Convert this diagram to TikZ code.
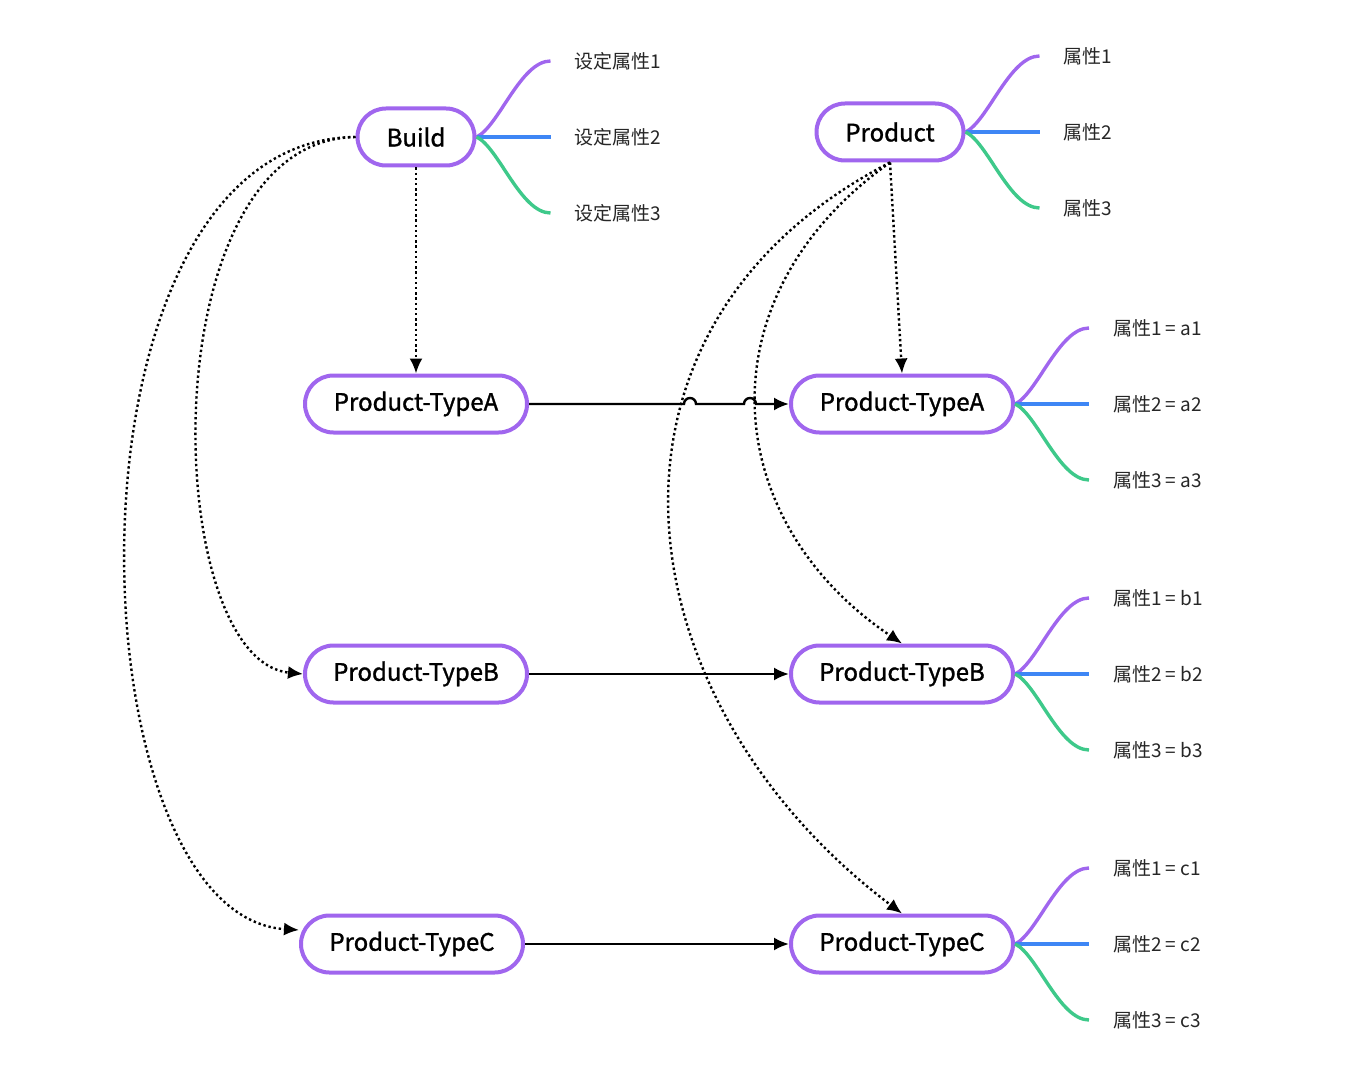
\documentclass[tikz,border=0pt]{standalone}
\usepackage{fontspec}
\setmainfont{Noto Sans CJK SC}
\newfontfamily\boxfont{Noto Sans CJK SC}[FakeBold=1.2]
\usetikzlibrary{positioning,arrows.meta}
\definecolor{boxpurple}{RGB}{160,102,238}
\definecolor{attrblue}{RGB}{62,134,245}
\definecolor{attrgreen}{RGB}{62,201,138}
\tikzset{
  box/.style={draw=boxpurple, line width=2pt, rounded corners=14.2pt, minimum height=28.5pt, fill=white, font=\boxfont\fontsize{12}{15}\selectfont},
  typebox/.style={box, minimum width=111pt},
  attr/.style={font=\fontsize{9.5}{12}\selectfont, anchor=west, text=black!85},
  twig/.style={line width=1.7pt},
  link/.style={line width=1.2pt, -{Latex[length=7.5pt,width=6.5pt]}},
  dots/.style={link, dash pattern=on 1.2pt off 1.4pt},
}
\begin{document}
\begin{tikzpicture}[x=0.5pt, y=-0.5pt]
        \useasboundingbox (0,0) rectangle (1358,1080);
        % NODES
        % -----------------
        \node[box, minimum width=58.5pt] (build) at (416,137) {Build};
        \node[box, minimum width=73.5pt] (product) at (890,132) {Product};

        \node[typebox, below=103pt of build] (ta1) {Product-TypeA};
        \node[typebox, below=104.5pt of ta1] (tb1) {Product-TypeB};
        \node[typebox, below=104.5pt of tb1, xshift=-2pt] (tc1) {Product-TypeC};

        \node[typebox, right=130pt of ta1] (ta2) {Product-TypeA};
        \node[typebox, below=104.5pt of ta2] (tb2) {Product-TypeB};
        \node[typebox, below=104.5pt of tb2] (tc2) {Product-TypeC};

        % ATTRIBUTES
        % -----------------
        \foreach \nd/\la/\lb/\lc in {build/设定属性1/设定属性2/设定属性3,
            product/属性1/属性2/属性3,
            ta2/属性1 = a1/属性2 = a2/属性3 = a3,
            tb2/属性1 = b1/属性2 = b2/属性3 = b3,
            tc2/属性1 = c1/属性2 = c2/属性3 = c3}{
          \draw[twig, boxpurple] (\nd.east) .. controls +(22,-10) and +(-30,0) .. ++(74,-76) coordinate (\nd-t1);
          \draw[twig, attrblue] (\nd.east) -- ++(74,0) coordinate (\nd-t2);
          \draw[twig, attrgreen] (\nd.east) .. controls +(22,10) and +(-30,0) .. ++(74,76) coordinate (\nd-t3);
          \node[attr] at ([xshift=8.5pt]\nd-t1) {\la};
          \node[attr] at ([xshift=8.5pt]\nd-t2) {\lb};
          \node[attr] at ([xshift=8.5pt]\nd-t3) {\lc};
        }

        % EDGES
        % -----------------
        \coordinate (hop1) at ([xshift=77.5pt]ta1.east);
        \coordinate (hop2) at ([xshift=107.5pt]ta1.east);
        \draw[link] (ta1) -- (hop1) arc[start angle=180, end angle=0, radius=3pt]
            -- (hop2) arc[start angle=180, end angle=0, radius=3pt] -- (ta2);
        \draw[link] (tb1) -- (tb2);
        \draw[link] (tc1) -- (tc2);

        % dotted links
        \draw[dots] (build.south) -- (ta1.north);
        \draw[dots] (build.west) .. controls +(-207,3) and +(-143,-14) .. (tb1.west);
        \draw[dots] (build.west) .. controls +(-307,3) and +(-229,-14) .. ([yshift=7pt]tc1.west);

        \draw[dots] (product.south) -- (ta2.north);
        \draw[dots] (product.south) .. controls +(-190,135) and +(-183,-123) .. (tb2.north);
        \draw[dots] (product.south) .. controls +(-320,165) and +(-283,-213) .. (tc2.north);

    \end{tikzpicture}
\end{document}
